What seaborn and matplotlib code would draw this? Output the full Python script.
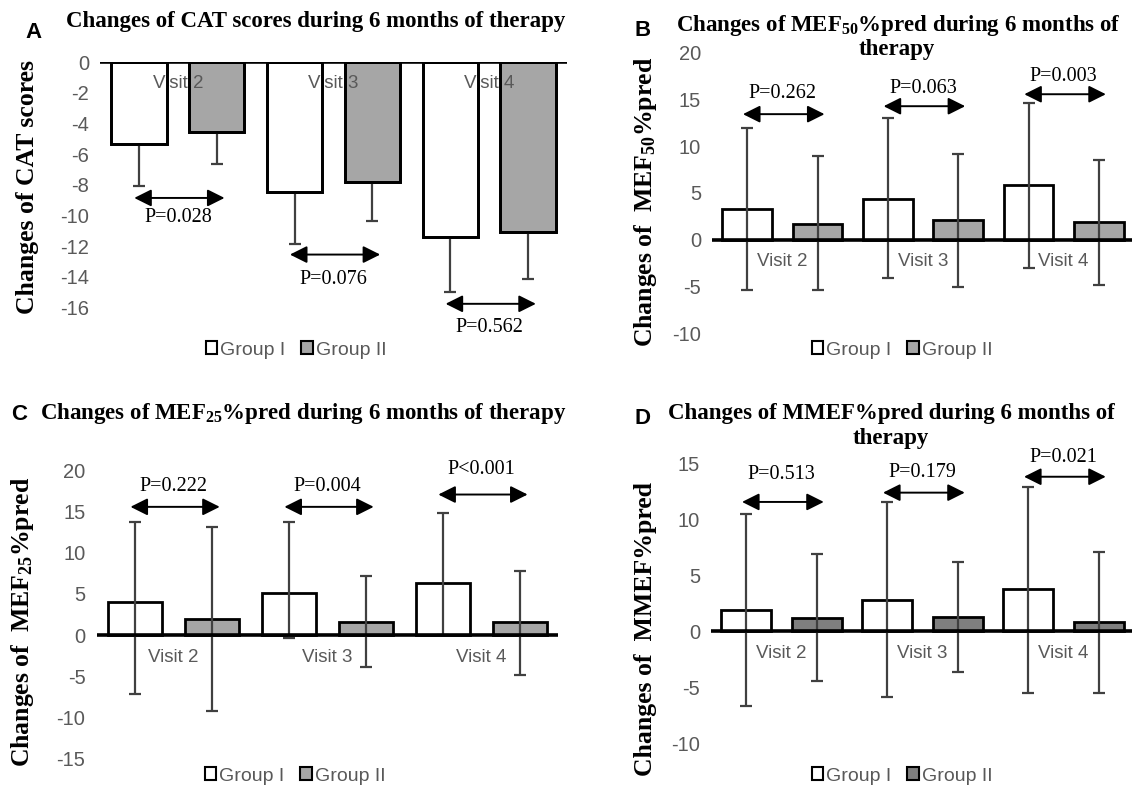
import matplotlib
import matplotlib.pyplot as plt
import numpy as np
import pandas as pd
import seaborn as sns
from matplotlib.patches import Patch, Rectangle

matplotlib.use("Agg")

VISITS = ["Visit 2", "Visit 3", "Visit 4"]
GROUPS = ["Group I", "Group II"]

# panel A - CAT scores (error bars only point downwards)
cat_g1 = [-5.36, -8.47, -11.40]
cat_g2 = [-4.54, -7.84, -11.05]
cat_g1_low = [-8.08, -11.83, -14.96]
cat_g2_low = [-6.67, -10.36, -14.11]
cat_p = ["P=0.028", "P=0.076", "P=0.562"]
cat_arrow_y = [-8.86, -12.55, -15.76]
cat_p_y = [-10.14, -14.16, -17.30]

# panel B - MEF50 %pred
mef50_g1 = [3.3, 4.4, 5.9]
mef50_g2 = [1.7, 2.1, 1.85]
mef50_g1_low = [-5.4, -4.1, -2.98]
mef50_g1_high = [12.0, 13.0, 14.6]
mef50_g2_low = [-5.4, -5.03, -4.82]
mef50_g2_high = [8.95, 9.13, 8.57]
mef50_p = ["P=0.262", "P=0.063", "P=0.003"]
mef50_arrow_y = [13.43, 14.28, 15.56]
mef50_p_y = [15.63, 16.2, 17.5]

# panel C - MEF25 %pred
mef25_g1 = [4.0, 5.1, 6.3]
mef25_g2 = [1.95, 1.62, 1.6]
mef25_g1_low = [-7.2, -0.4, 0.0]
mef25_g1_high = [13.7, 13.7, 14.9]
mef25_g2_low = [-9.25, -3.9, -4.9]
mef25_g2_high = [13.2, 7.18, 7.8]
mef25_p = ["P=0.222", "P=0.004", "P<0.001"]
mef25_arrow_y = [15.6, 15.6, 17.1]
mef25_p_y = [18.1, 18.1, 20.15]

# panel D - MMEF %pred
mmef_g1 = [1.93, 2.79, 3.74]
mmef_g2 = [1.16, 1.28, 0.8]
mmef_g1_low = [-6.68, -5.88, -5.49]
mmef_g1_high = [10.45, 11.55, 12.9]
mmef_g2_low = [-4.48, -3.65, -5.49]
mmef_g2_high = [6.89, 6.2, 7.04]
mmef_p = ["P=0.513", "P=0.179", "P=0.021"]
mmef_arrow_y = [11.55, 12.38, 13.8]
mmef_p_y = [14.0, 14.2, 15.5]

W, H = 1132, 786
SERIF = "Liberation Serif"
SANS = "Liberation Sans"
TICK_COLOR = "#595959"
ERR_COLOR = "#404040"

sns.set_theme(style="white")
plt.rcParams["font.family"] = [SANS, "DejaVu Sans"]
plt.rcParams["axes.unicode_minus"] = False
plt.rcParams["mathtext.fontset"] = "custom"
plt.rcParams["mathtext.bf"] = "Liberation Serif:bold"
plt.rcParams["mathtext.rm"] = "Liberation Serif:bold"
plt.rcParams["mathtext.default"] = "bf"


def px_box(left, top, right, bottom):
    return [left / W, 1 - bottom / H, (right - left) / W, (bottom - top) / H]


def draw_panel(fig, box, g1, g2, g1_low, g1_high, g2_low, g2_high, ylim, ystep,
               gray, pvals, arrow_y, p_y, label_inside_bars=False):
    ax = fig.add_axes(box)
    df = pd.DataFrame({
        "visit": VISITS * 2,
        "group": [GROUPS[0]] * 3 + [GROUPS[1]] * 3,
        "value": list(g1) + list(g2),
    })
    sns.barplot(data=df, x="visit", y="value", hue="group", hue_order=GROUPS,
                palette={GROUPS[0]: "white", GROUPS[1]: gray}, edgecolor="black",
                linewidth=2, width=1.0, gap=0.29, errorbar=None, legend=False,
                ax=ax, zorder=2)

    lows = [g1_low, g2_low]
    highs = [g1_high, g2_high]
    means = [g1, g2]
    bar_conts = list(ax.containers)
    for k, cont in enumerate(bar_conts):
        for j, bar in enumerate(cont):
            xc = bar.get_x() + bar.get_width() / 2
            m = means[k][j]
            hi = highs[k][j] if highs[k] is not None else m
            _, caps, _ = ax.errorbar(xc, m, yerr=[[m - lows[k][j]], [hi - m]],
                                     fmt="none", ecolor=ERR_COLOR, elinewidth=1.6,
                                     capsize=4.5, capthick=1.6, zorder=3)
            if highs[k] is None:
                caps[1].set_visible(False)
            if label_inside_bars:
                # bar outlines sit over the category labels, like in the source
                ax.add_patch(Rectangle((bar.get_x(), bar.get_y()), bar.get_width(),
                                       bar.get_height(), fill=False, ec="black",
                                       lw=2, zorder=6))

    ax.axhline(0, color="black", lw=2.6, zorder=7)
    ax.set_xlim(-0.5, 2.5)
    ax.set_ylim(*ylim)
    ax.set_yticks(np.arange(ylim[0], ylim[1] + 0.1, ystep))
    ax.tick_params(axis="y", length=0, labelsize=14.5, labelcolor=TICK_COLOR, pad=8)
    ax.set_xticks([])
    ax.set_xlabel("")
    ax.set_ylabel("")
    for s in ax.spines.values():
        s.set_visible(False)
    ax.patch.set_alpha(0)

    for i, name in enumerate(VISITS):
        ax.annotate(name, xy=(i, 0), xytext=(0, -22), textcoords="offset pixels",
                    ha="center", va="center", fontsize=13.5, color=TICK_COLOR,
                    zorder=5, annotation_clip=False)
        ax.annotate("", xy=(i + 0.30, arrow_y[i]), xytext=(i - 0.28, arrow_y[i]),
                    arrowprops=dict(arrowstyle="<|-|>", color="black", lw=1.4,
                                    mutation_scale=26, shrinkA=0, shrinkB=0),
                    annotation_clip=False, zorder=5)
        ax.text(i, p_y[i], pvals[i], ha="center", va="center", family=SERIF,
                fontsize=14.5, color="black", clip_on=False, zorder=5)
    return ax


def add_legend(fig, ax, gray, cx, cy):
    handles = [Patch(facecolor="white", edgecolor="black", linewidth=1.5),
               Patch(facecolor=gray, edgecolor="black", linewidth=1.5)]
    ax.legend(handles, GROUPS, loc="center", bbox_to_anchor=(cx / W, 1 - cy / H),
              bbox_transform=fig.transFigure, ncol=2, frameon=False,
              handlelength=0.6, handleheight=0.6, handletextpad=0.15,
              columnspacing=0.8, fontsize=14, labelcolor=TICK_COLOR)


def fig_text(fig, x, y, s, **kw):
    fig.text(x / W, 1 - y / H, s, ha="center", va="center", **kw)


fig = plt.figure(figsize=(W / 100, H / 100), dpi=100, facecolor="white")

LIGHT = "#A6A6A6"
DARK = "#7F7F7F"

ax_a = draw_panel(fig, px_box(100, 62, 567, 307.5), cat_g1, cat_g2, cat_g1_low, None,
                  cat_g2_low, None, (-16, 0), 2, LIGHT, cat_p, cat_arrow_y, cat_p_y,
                  label_inside_bars=True)
ax_b = draw_panel(fig, px_box(712, 52.7, 1134, 333.3), mef50_g1, mef50_g2, mef50_g1_low,
                  mef50_g1_high, mef50_g2_low, mef50_g2_high, (-10, 20), 5, LIGHT,
                  mef50_p, mef50_arrow_y, mef50_p_y)
ax_c = draw_panel(fig, px_box(96.6, 470.7, 558.4, 758.3), mef25_g1, mef25_g2, mef25_g1_low,
                  mef25_g1_high, mef25_g2_low, mef25_g2_high, (-15, 20), 5, LIGHT,
                  mef25_p, mef25_arrow_y, mef25_p_y)
ax_d = draw_panel(fig, px_box(711, 463.3, 1134, 743.3), mmef_g1, mmef_g2, mmef_g1_low,
                  mmef_g1_high, mmef_g2_low, mmef_g2_high, (-10, 15), 5, DARK,
                  mmef_p, mmef_arrow_y, mmef_p_y)

add_legend(fig, ax_a, LIGHT, 296, 350)
add_legend(fig, ax_b, LIGHT, 902, 350)
add_legend(fig, ax_c, LIGHT, 295, 776)
add_legend(fig, ax_d, DARK, 902, 776)

title_kw = dict(family=SERIF, fontweight="bold", fontsize=16.5, color="black")
fig_text(fig, 316, 22, "Changes of CAT scores during 6 months of therapy", **title_kw)
fig_text(fig, 898, 25, "Changes of MEF$_{50}$%pred during 6 months of", **title_kw)
fig_text(fig, 897, 50, "therapy", **title_kw)
fig_text(fig, 303, 413, "Changes of MEF$_{25}$%pred during 6 months of therapy", **title_kw)
fig_text(fig, 891, 413, "Changes of MMEF%pred during 6 months of", **title_kw)
fig_text(fig, 891, 438, "therapy", **title_kw)

letter_kw = dict(family=SANS, fontweight="bold", fontsize=16, color="black")
fig_text(fig, 33, 32, "A", **letter_kw)
fig_text(fig, 643, 30, "B", **letter_kw)
fig_text(fig, 19, 414, "C", **letter_kw)
fig_text(fig, 643, 418, "D", **letter_kw)

ylab_kw = dict(family=SERIF, fontweight="bold", fontsize=18.5, color="black", rotation=90)
fig_text(fig, 28, 187, "Changes of CAT scores", **ylab_kw)
fig_text(fig, 645, 202, "Changes of  MEF$_{50}$%pred", **ylab_kw)
fig_text(fig, 23, 622, "Changes of  MEF$_{25}$%pred", **ylab_kw)
fig_text(fig, 645, 629, "Changes of  MMEF%pred", **ylab_kw)

fig.savefig("out.png", dpi=100, facecolor="white")
plt.close(fig)
